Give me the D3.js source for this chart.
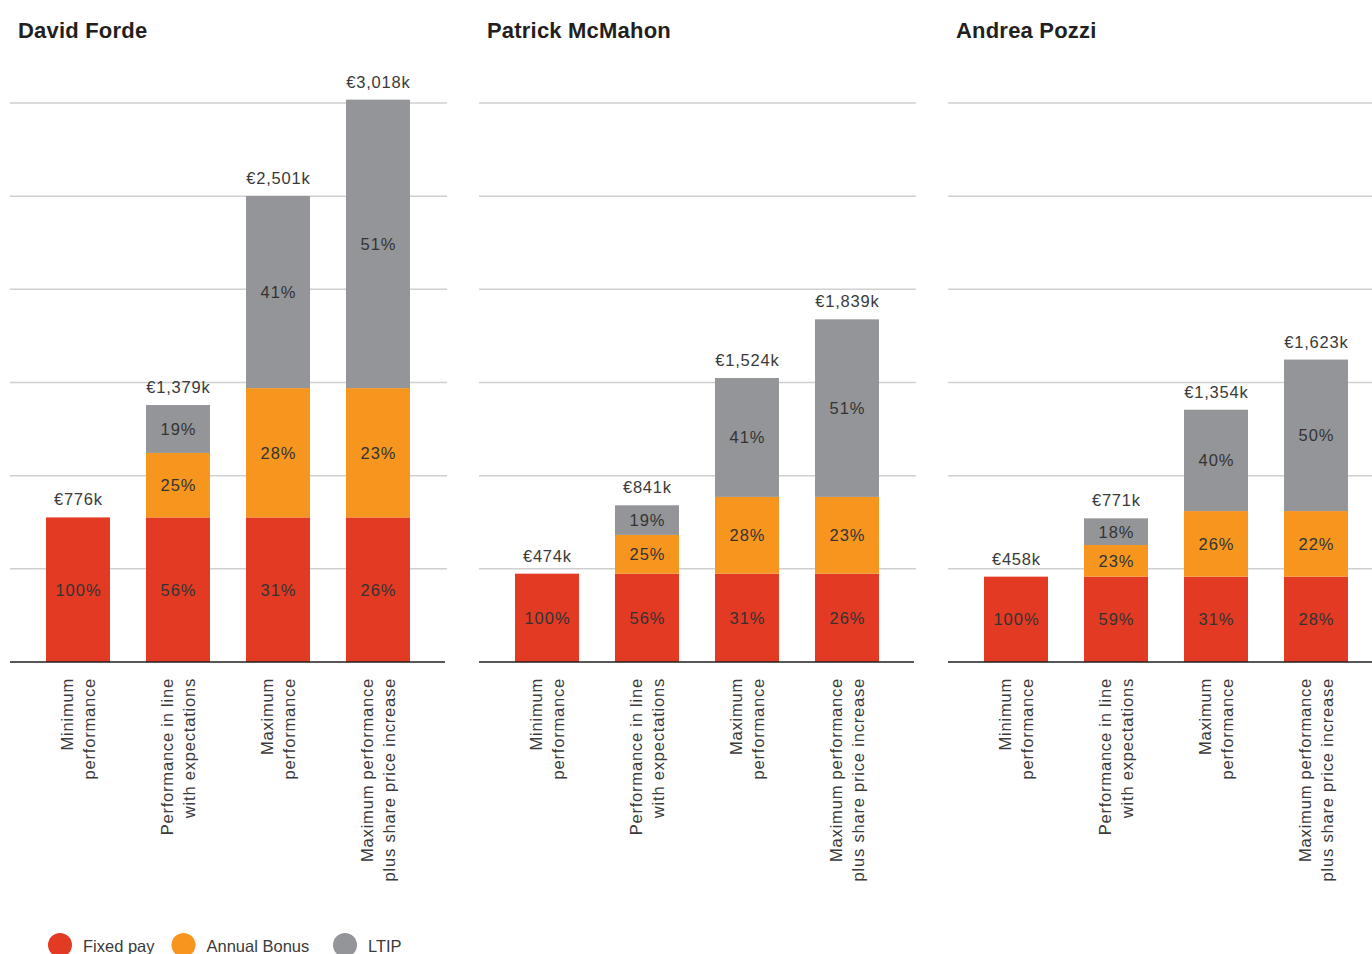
<!DOCTYPE html>
<html>
<head>
<meta charset="utf-8">
<script src="https://cdn.jsdelivr.net/npm/d3@7"></script>
<style>
  html, body { margin: 0; padding: 0; background: #fff; overflow: hidden; }
  svg { display: block; }
</style>
</head>
<body>
<svg id="chart" width="1372" height="954"></svg>
<script>
// ---- Data (values in € thousands) ----
const people = ["David Forde", "Patrick McMahon", "Andrea Pozzi"];
const scenarios = [
  ["Minimum", "performance"],
  ["Performance in line", "with expectations"],
  ["Maximum", "performance"],
  ["Maximum performance", "plus share price increase"]
];
const fixedPay    = [[776, 776, 776, 776], [474, 474, 474, 474], [458, 458, 458, 458]];
const annualBonus = [[0, 346, 694, 694],   [0, 208, 412, 412],   [0, 170, 352, 352]];
const ltip        = [[0, 257, 1031, 1548], [0, 159, 638, 953],   [0, 143, 544, 813]];
const fixedPct = [[100, 56, 31, 26], [100, 56, 31, 26], [100, 59, 31, 28]];
const bonusPct = [[null, 25, 28, 23], [null, 25, 28, 23], [null, 23, 26, 22]];
const ltipPct  = [[null, 19, 41, 51], [null, 19, 41, 51], [null, 18, 40, 50]];
const gridTicks = [500, 1000, 1500, 2000, 2500, 3000];
const legendItems = ["Fixed pay", "Annual Bonus", "LTIP"];

const colors = { fixed: "#e33a24", bonus: "#f7961f", ltip: "#939598" };
const legendColors = [colors.fixed, colors.bonus, colors.ltip];

const svg = d3.select("#chart");
const font = "'Liberation Sans', Arial, Helvetica, sans-serif";
const y = d3.scaleLinear().domain([0, 3000]).range([662, 103]);
const fmt = d3.format(",");
const panelStep = 469;

people.forEach((name, p) => {
  const px = p * panelStep;
  const g = svg.append("g");

  g.append("text")
    .attr("x", px + 18).attr("y", 38)
    .attr("font-family", font).attr("font-weight", "bold")
    .attr("font-size", 22).attr("fill", "#231f20")
    .attr("letter-spacing", 0.2)
    .text(name);

  // gridlines
  g.selectAll(".grid").data(gridTicks).enter().append("line")
    .attr("x1", px + 10).attr("x2", px + 447)
    .attr("y1", d => y(d)).attr("y2", d => y(d))
    .attr("stroke", "#cfcfcf").attr("stroke-width", 1.5);

  const x = d3.scaleBand().domain(d3.range(scenarios.length))
    .range([px + 28, px + 428]).paddingInner(0.36).paddingOuter(0.18);

  const rows = scenarios.map((s, i) => {
    const f = fixedPay[p][i], b = annualBonus[p][i], l = ltip[p][i];
    return { i, segs: [
      { y0: 0, y1: f, c: colors.fixed, pct: fixedPct[p][i] },
      { y0: f, y1: f + b, c: colors.bonus, pct: bonusPct[p][i] },
      { y0: f + b, y1: f + b + l, c: colors.ltip, pct: ltipPct[p][i] }
    ], total: f + b + l };
  });

  rows.forEach(r => {
    r.segs.forEach(s => {
      if (s.y1 <= s.y0) return;
      g.append("rect")
        .attr("x", x(r.i)).attr("width", x.bandwidth())
        .attr("y", y(s.y1)).attr("height", y(s.y0) - y(s.y1))
        .attr("fill", s.c);
      if (s.pct != null) {
        g.append("text")
          .attr("x", x(r.i) + x.bandwidth() / 2 + 0.5)
          .attr("y", (y(s.y0) + y(s.y1)) / 2)
          .attr("dy", "0.36em")
          .attr("text-anchor", "middle")
          .attr("font-family", font).attr("font-size", 16.5)
          .attr("letter-spacing", 1)
          .attr("fill", "#333").text(s.pct + "%");
      }
    });
    g.append("text")
      .attr("x", x(r.i) + x.bandwidth() / 2 + 0.4)
      .attr("y", y(r.total) - 12)
      .attr("text-anchor", "middle")
      .attr("font-family", font).attr("font-size", 16.5)
      .attr("letter-spacing", 0.8)
      .attr("fill", "#3a3a3a").text("€" + fmt(r.total) + "k");

    // category label, rotated
    const lg = g.append("g")
      .attr("transform", `translate(${x(r.i) + x.bandwidth() / 2},678) rotate(-90)`);
    scenarios[r.i].forEach((line, k) => {
      lg.append("text")
        .attr("x", 0).attr("y", -5 + k * 22)
        .attr("text-anchor", "end")
        .attr("font-family", font).attr("font-size", 16.5)
        .attr("letter-spacing", 0.8)
        .attr("fill", "#3a3a3a").text(line);
    });
  });

  // baseline
  g.append("line")
    .attr("x1", px + 10).attr("x2", px + 445)
    .attr("y1", y(0)).attr("y2", y(0))
    .attr("stroke", "#231f20").attr("stroke-width", 1.5);
});

// legend
const legendX = [60, 183.5, 345];
const lg = svg.append("g");
legendItems.forEach((t, i) => {
  lg.append("circle").attr("cx", legendX[i]).attr("cy", 945).attr("r", 12)
    .attr("fill", legendColors[i]);
  lg.append("text").attr("x", legendX[i] + 23).attr("y", 952)
    .attr("font-family", font).attr("font-size", 16.5)
    .attr("fill", "#3a3a3a").text(t);
});
</script>
</body>
</html>
